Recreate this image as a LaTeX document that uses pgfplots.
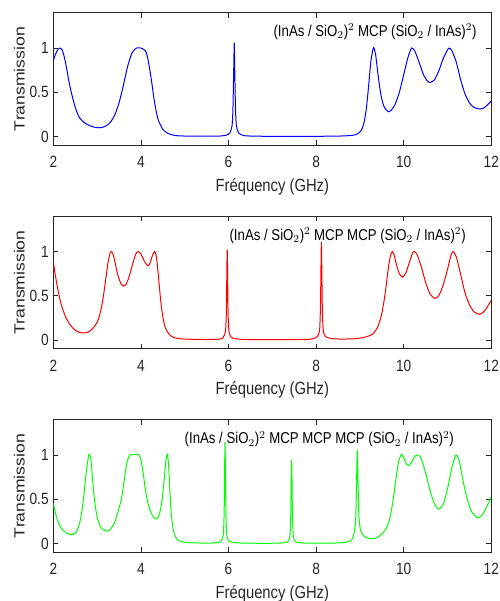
\documentclass[border=0pt]{standalone}
\usepackage{fontspec}
\setmainfont{Liberation Sans}[FakeStretch=0.84]
\newfontfamily\ylabfont{Liberation Sans}
\usepackage{graphicx}
\usepackage{pgfplots}
\pgfplotsset{compat=1.18}

\definecolor{axcol}{gray}{0.15}

\pgfplotsset{
  panel/.style={
    scale only axis,
    width=328.5pt, height=99.5pt,
    xmin=2, xmax=12, ymin=-0.1, ymax=1.4,
    xtick={2,4,6,8,10,12}, ytick={0,0.5,1},
    tick pos=both, tick align=inside,
    major tick length=3.75pt,
    axis line style={axcol, line width=0.6pt},
    every tick/.style={axcol, line width=0.6pt},
    /pgf/number format/assume math mode=true,
    tick label style={font=\fontsize{12.2}{14}\selectfont, text=axcol},
    xticklabel style={anchor=center, yshift=-12.5pt},
    xlabel={Fréquency (GHz)},
    ylabel={\ylabfont\scalebox{1}[0.84]{Transmission}},
    every axis x label/.style={at={(axis description cs:0.5,0)}, anchor=center,
      yshift=-31pt, font=\fontsize{13.2}{15}\selectfont, text=axcol},
    every axis y label/.style={at={(axis description cs:0,0.5)}, xshift=-25.4pt,
      rotate=90, anchor=center, font=\fontsize{13.2}{15}\selectfont, text=axcol},
    every axis plot/.append style={smooth, tension=0.4, line width=0.75pt},
  },
}
\tikzset{note/.style={anchor=east, font=\fontsize{11.8}{14}\selectfont, text=black, inner sep=0pt}}

\begin{document}
\begin{tikzpicture}
\useasboundingbox (0,0) rectangle (375pt,-450.75pt);

\begin{axis}[panel, at={(40pt,-109pt)}, anchor=south west]
\addplot[blue] coordinates {
(2.00,0.86) (2.05,0.93) (2.10,0.98) (2.15,1.00) (2.20,0.98) (2.25,0.90) (2.30,0.78)
(2.35,0.64) (2.40,0.52) (2.45,0.42) (2.50,0.33) (2.55,0.26) (2.60,0.21) (2.70,0.16)
(2.80,0.13) (2.90,0.11) (3.00,0.10) (3.10,0.10) (3.20,0.12) (3.30,0.16) (3.40,0.24)
(3.50,0.38) (3.60,0.58) (3.70,0.80) (3.80,0.95) (3.90,1.00) (4.00,1.00) (4.10,0.97)
(4.15,0.90) (4.20,0.76) (4.25,0.60) (4.30,0.42) (4.35,0.28) (4.40,0.18) (4.50,0.08)
(4.60,0.04) (4.70,0.02) (4.80,0.01) (5.00,0.005) (5.50,0.003) (5.80,0.005) (5.95,0.015)
(6.03,0.04) (6.08,0.12) (6.10,0.30) (6.12,0.80) (6.13,1.06) (6.14,0.80) (6.16,0.30)
(6.18,0.12) (6.23,0.04) (6.35,0.01) (6.60,0.004) (7.00,0.002) (8.00,0.002) (8.60,0.006)
(8.80,0.012) (8.90,0.02) (9.00,0.05) (9.05,0.09) (9.10,0.17) (9.15,0.33) (9.20,0.58)
(9.25,0.85) (9.30,0.99) (9.32,1.00) (9.36,0.92) (9.40,0.75) (9.45,0.56) (9.50,0.42)
(9.55,0.34) (9.60,0.30) (9.65,0.28) (9.70,0.29) (9.80,0.36) (9.90,0.50) (10.00,0.70)
(10.10,0.90) (10.18,1.00) (10.25,0.97) (10.35,0.84) (10.45,0.70) (10.55,0.62) (10.60,0.61)
(10.70,0.64) (10.80,0.74) (10.90,0.88) (11.00,0.98) (11.04,1.00) (11.10,0.97) (11.20,0.84)
(11.30,0.64) (11.40,0.48) (11.50,0.38) (11.60,0.33) (11.74,0.31) (11.85,0.33) (12.00,0.40)};
\node[note] at (axis cs:11.67,1.185) {(InAs / SiO$_2$)$^2$ MCP (SiO$_2$ / InAs)$^2$)};
\end{axis}

\begin{axis}[panel, at={(40pt,-261.6pt)}, anchor=south west]
\addplot[red] coordinates {
(2.00,0.88) (2.05,0.72) (2.10,0.58) (2.15,0.46) (2.20,0.37) (2.25,0.30) (2.30,0.24)
(2.40,0.16) (2.50,0.11) (2.60,0.085) (2.70,0.08) (2.80,0.09) (2.90,0.13) (3.00,0.20)
(3.05,0.27) (3.10,0.37) (3.15,0.52) (3.20,0.70) (3.25,0.88) (3.30,0.99) (3.33,1.00)
(3.37,0.96) (3.42,0.85) (3.48,0.72) (3.55,0.63) (3.60,0.61) (3.65,0.62) (3.72,0.70)
(3.80,0.84) (3.88,0.97) (3.94,1.00) (4.00,0.97) (4.08,0.89) (4.15,0.84) (4.20,0.86)
(4.26,0.95) (4.31,1.00) (4.35,0.95) (4.40,0.72) (4.45,0.45) (4.50,0.26) (4.55,0.15)
(4.62,0.08) (4.70,0.04) (4.80,0.02) (5.00,0.01) (5.50,0.005) (5.80,0.01) (5.88,0.03)
(5.93,0.10) (5.95,0.30) (5.96,0.70) (5.97,1.02) (5.98,0.70) (5.99,0.30) (6.01,0.10)
(6.06,0.03) (6.20,0.01) (6.50,0.004) (7.00,0.003) (7.60,0.005) (7.90,0.01) (8.03,0.04)
(8.08,0.12) (8.10,0.40) (8.11,0.80) (8.12,1.11) (8.13,0.80) (8.14,0.40) (8.16,0.12)
(8.21,0.04) (8.35,0.015) (8.60,0.01) (8.90,0.015) (9.10,0.03) (9.20,0.045) (9.30,0.07)
(9.40,0.14) (9.45,0.21) (9.50,0.30) (9.55,0.44) (9.60,0.62) (9.65,0.82) (9.70,0.96)
(9.74,1.00) (9.78,0.96) (9.84,0.84) (9.90,0.75) (9.97,0.71) (10.05,0.76) (10.13,0.88)
(10.20,0.98) (10.24,1.00) (10.30,0.97) (10.40,0.83) (10.50,0.65) (10.60,0.52) (10.71,0.47)
(10.80,0.50) (10.90,0.62) (11.00,0.80) (11.08,0.96) (11.13,1.00) (11.20,0.94) (11.30,0.74)
(11.40,0.53) (11.50,0.40) (11.60,0.32) (11.73,0.29) (11.85,0.33) (12.00,0.45)};
\node[note] at (axis cs:11.42,1.18) {(InAs / SiO$_2$)$^2$ MCP MCP (SiO$_2$ / InAs)$^2$)};
\end{axis}

\begin{axis}[panel, at={(40pt,-414.3pt)}, anchor=south west]
\addplot[green] coordinates {
(2.00,0.45) (2.05,0.34) (2.10,0.26) (2.15,0.20) (2.20,0.16) (2.30,0.12) (2.40,0.10)
(2.50,0.12) (2.55,0.16) (2.60,0.23) (2.65,0.36) (2.70,0.56) (2.75,0.80) (2.80,0.98)
(2.82,1.01) (2.86,0.94) (2.90,0.70) (2.95,0.45) (3.00,0.30) (3.05,0.22) (3.10,0.17)
(3.22,0.14) (3.30,0.16) (3.40,0.24) (3.50,0.40) (3.56,0.52) (3.62,0.72) (3.68,0.92)
(3.75,1.00) (3.85,1.01) (3.95,1.00) (4.00,0.95) (4.05,0.80) (4.10,0.62) (4.15,0.48)
(4.22,0.36) (4.30,0.29) (4.36,0.28) (4.42,0.33) (4.48,0.48) (4.53,0.72) (4.57,0.94)
(4.60,1.01) (4.63,0.90) (4.66,0.60) (4.70,0.30) (4.75,0.13) (4.82,0.05) (4.90,0.025)
(5.10,0.01) (5.50,0.005) (5.75,0.01) (5.83,0.03) (5.88,0.10) (5.90,0.35) (5.91,0.80)
(5.92,1.15) (5.93,0.80) (5.94,0.35) (5.96,0.10) (6.01,0.03) (6.20,0.008) (6.80,0.003)
(7.20,0.006) (7.35,0.02) (7.40,0.08) (7.42,0.30) (7.43,0.70) (7.44,0.95) (7.45,0.70)
(7.46,0.30) (7.48,0.08) (7.53,0.02) (7.70,0.006) (8.20,0.004) (8.60,0.01) (8.78,0.03)
(8.85,0.08) (8.90,0.25) (8.92,0.60) (8.94,1.06) (8.96,0.60) (8.98,0.28) (9.02,0.14)
(9.10,0.08) (9.20,0.06) (9.30,0.055) (9.40,0.07) (9.50,0.11) (9.60,0.17) (9.67,0.26)
(9.72,0.38) (9.76,0.50) (9.82,0.72) (9.88,0.92) (9.95,1.01) (10.00,0.97) (10.06,0.90)
(10.12,0.88) (10.18,0.92) (10.26,0.99) (10.33,1.00) (10.40,0.96) (10.50,0.80) (10.60,0.60)
(10.70,0.45) (10.79,0.39) (10.90,0.44) (11.00,0.62) (11.10,0.86) (11.18,0.99) (11.21,1.00)
(11.27,0.93) (11.35,0.72) (11.45,0.50) (11.55,0.36) (11.69,0.29) (11.80,0.33) (11.90,0.42)
(12.00,0.53)};
\node[note] at (axis cs:11.15,1.18) {(InAs / SiO$_2$)$^2$ MCP MCP MCP (SiO$_2$ / InAs)$^2$)};
\end{axis}
\end{tikzpicture}
\end{document}
